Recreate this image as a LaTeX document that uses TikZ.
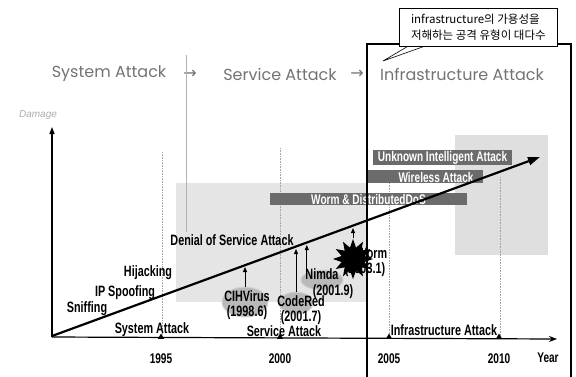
\documentclass[tikz,border=0pt]{standalone}
\usepackage{fontspec}
\setmainfont{Liberation Sans}
\newfontfamily\nar[FakeStretch=0.72]{Liberation Sans}
\newfontfamily\ttlf{Poppins}
\newfontfamily\krf{Noto Sans CJK KR}
\newfontfamily\dvf{DejaVu Sans}
\usetikzlibrary{arrows.meta,shapes.geometric}
\begin{document}
\begin{tikzpicture}[x=1pt,y=-1pt,
  ttl/.style={font=\ttlf\fontsize{16}{18}\selectfont, text=black!55, inner sep=0},
  tarr/.style={font=\dvf\fontsize{16}{18}\selectfont, text=black!55, inner sep=0},
  bl/.style={font=\nar\bfseries\fontsize{15}{16}\selectfont, inner sep=0},
  yr/.style={font=\nar\bfseries\fontsize{14}{15}\selectfont, inner sep=0},
  bartxt/.style={font=\nar\bfseries\fontsize{14}{15}\selectfont, text=white, inner sep=0},
  barbox/.style={fill=black!58, draw=none, inner sep=0},
  blob/.style={ellipse, fill=gray!55, draw=gray!35, line width=1pt, inner sep=0},
  up/.style={-{Triangle[length=5pt,width=4pt]}, line width=0.8pt},
  gridl/.style={gray!70, densely dotted, line width=0.6pt},
  tick/.style={regular polygon, regular polygon sides=3, fill=black, minimum size=7pt, inner sep=0},
  zone/.style={fill=gray!20, draw=none}
]
\useasboundingbox (0,0) rectangle (576,376);

% shaded zones
\fill[zone] (176,183) rectangle (366,302);
\fill[zone, fill=gray!25] (455,135) rectangle (548,255);

% title
\node[ttl] (t1) at (109,74) {System Attack};
\node[tarr] (ar1) at (190,74) {→};
\node[ttl] (t2) at (280,74) {Service Attack};
\node[tarr] (ar2) at (357,74) {→};
\node[ttl] (t3) at (462,74) {Infrastructure Attack};

% faint vertical line
\draw[gray!60, line width=0.6pt] (186,55) -- (186,232);

% grid lines
\coordinate (g1t) at (162,152); \coordinate (g1b) at (162,337);
\coordinate (g2t) at (280,148); \coordinate (g2b) at (280,337);
\coordinate (g3t) at (389,183); \coordinate (g3b) at (389,337);
\coordinate (g4t) at (500,177); \coordinate (g4b) at (500,337);
\draw[gridl] (g1t) -- (g1b);
\draw[gridl] (g2t) -- (g2b);
\draw[gridl] (g3t) -- (g3b);
\draw[gridl] (g4t) -- (g4b);

% bars
\node[barbox, bartxt, minimum width=139pt, minimum height=15pt] (b1) at (442.5,157.5) {Unknown Intelligent Attack};
\node[barbox, minimum width=116pt, minimum height=13pt] (b2) at (425,176.5) {};
\node[bartxt] (b2t) at (436,177) {Wireless Attack};
\node[barbox, bartxt, minimum width=197pt, minimum height=12pt] (b3) at (368.5,199) {Worm \& DistributedDoS};

% axes
\coordinate (O) at (52,337);
\coordinate (ytop) at (52,127);
\coordinate (xend) at (557,339);
\draw[line width=1.3pt, -{Triangle[length=7pt,width=5pt]}] (O) -- (ytop);
\draw[line width=1.2pt, -{Stealth[length=8pt,width=6pt]}] (O) -- (xend);
\node[font=\itshape\fontsize{10}{12}\selectfont, text=gray!65, inner sep=0] (dmg) at (38,115) {Damage};

% ticks and years
\node[tick] (k1) at (161,337) {};
\node[tick] (k2) at (280,337) {};
\node[tick] (k3) at (389,337) {};
\node[tick] (k4) at (499,337) {};
\node[yr] (y1) at (161,359) {1995};
\node[yr] (y2) at (280,359) {2000};
\node[yr] (y3) at (389,359) {2005};
\node[yr] (y4) at (499,359) {2010};
\node[yr] (y5) at (548,358) {Year};

% axis phase labels
\node[bl] (p1) at (152,330) {System Attack};
\node[bl] (p2) at (284,331) {Service Attack};
\node[bl] (p3) at (444,330) {Infrastructure Attack};

% trend
\coordinate (ts) at (52,336);
\coordinate (te) at (540,157);
\draw[line width=2.2pt, -{Triangle[length=12pt,width=8pt]}] (ts) -- (te);

% labels on trend
\node[bl] (l1) at (87,309) {Sniffing};
\node[bl] (l2) at (125,293) {IP Spoofing};
\node[bl] (l3) at (148,273) {Hijacking};
\node[bl] (l4) at (232,240) {Denial of Service Attack};

% slammer text (partly covered)
\node[bl] (sw1) at (372,253) {Worm};
\node[bl] (sw2) at (365,270) {(2003.1)};

% blobs
\node[blob, minimum width=46pt, minimum height=30pt] (cih) at (245,302) {};
\node[bl] (cih1) at (247,296) {CIHVirus};
\node[bl] (cih2) at (247,313) {(1998.6)};
\node[blob, minimum width=34pt, minimum height=22pt] (cr) at (296,303) {};
\node[bl] (cr1) at (301,301) {CodeRed};
\node[bl] (cr2) at (301,318) {(2001.7)};
\node[blob, minimum width=42pt, minimum height=20pt] (nim) at (322,280) {};
\node[bl] (nim1) at (322,274.5) {Nimda};
\node[bl] (nim2) at (333,292) {(2001.9)};
\node[star, star points=12, star point ratio=1.7, fill=black, minimum size=40pt, inner sep=0] (slam) at (353,259) {};

% arrows to trend
\coordinate (a1) at (245,267);
\coordinate (a2) at (296,249);
\coordinate (a3) at (307,245);
\coordinate (a4) at (353,228);
\draw[up] (cih.north) -- (a1);
\draw[up] (cr.north) -- (a2);
\draw[up] (nim.north west) -- (nim.north west |- a3);
\draw[up] (slam.north) -- (a4);

% thick frame
\coordinate (f1) at (367,378);
\coordinate (f2) at (367,44);
\coordinate (f3) at (571,44);
\coordinate (f4) at (571,378);
\draw[line width=2pt] (f1) -- (f2) -- (f3) -- (f4);

% callout
\coordinate (ptip) at (383,61);
\coordinate (pb1) at (410,45);
\coordinate (pb2) at (428,45);
\draw[fill=white, line width=0.6pt] (pb1) -- (ptip) -- (pb2);
\node[draw, fill=white, line width=0.7pt, anchor=north west, align=left,
      minimum width=158pt, minimum height=38pt, inner xsep=5pt, inner ysep=3pt,
      font=\krf\fontsize{11.5}{16}\selectfont] (call) at (399,8)
  {infrastructure의 가용성을\\저해하는 공격 유형이 대다수};
\end{tikzpicture}
\end{document}
